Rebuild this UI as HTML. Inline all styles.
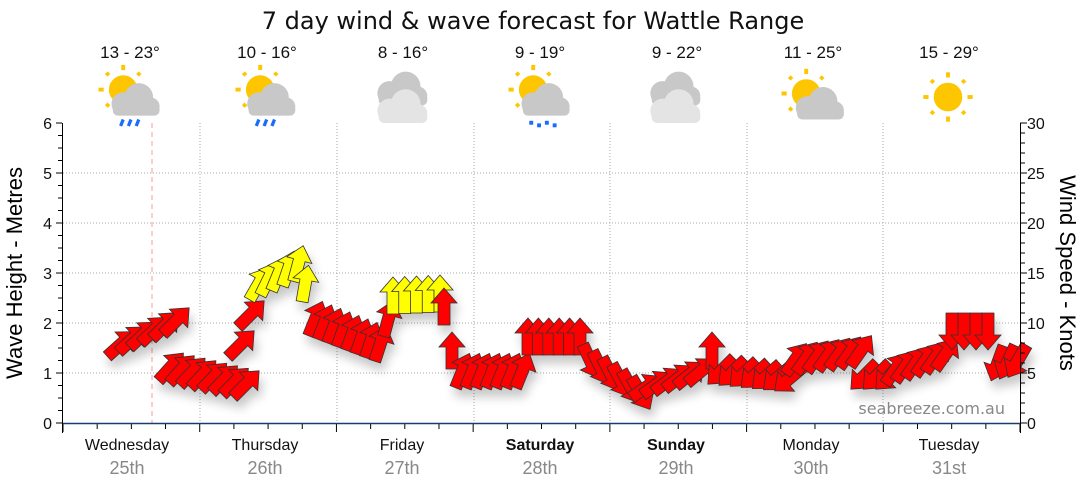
<!DOCTYPE html>
<html><head><meta charset="utf-8"><style>
html,body{margin:0;padding:0;background:#fff;width:1080px;height:490px;overflow:hidden}
svg text{font-family:"Liberation Sans",sans-serif}
.dj{font-family:"DejaVu Sans",sans-serif}
</style></head><body>
<svg id="s" width="1080" height="490" xmlns="http://www.w3.org/2000/svg">
<defs>
<polygon id="ar" points="0,-20 13,-5 6,-5 6,17 -6,17 -6,-5 -13,-5" stroke="#333" stroke-width="0.8"/>
<filter id="sh" x="-20%" y="-20%" width="140%" height="160%"><feGaussianBlur in="SourceAlpha" stdDeviation="5"/><feOffset dx="3" dy="8"/><feComponentTransfer><feFuncA type="linear" slope="0.22"/></feComponentTransfer><feMerge><feMergeNode/><feMergeNode in="SourceGraphic"/></feMerge></filter>
<g id="sun"><circle r="11" fill="#fdc600"/><g stroke="#fdc600" stroke-width="3"><line x1="0" y1="-15" x2="0" y2="-19"/><line x1="0" y1="15" x2="0" y2="19"/><line x1="-15" y1="0" x2="-19" y2="0"/><line x1="15" y1="0" x2="19" y2="0"/><line x1="-11" y1="-11" x2="-13" y2="-13"/><line x1="11" y1="-11" x2="13" y2="-13"/><line x1="-11" y1="11" x2="-13" y2="13"/><line x1="11" y1="11" x2="13" y2="13"/></g></g>
<g id="cl"><circle cx="-8" cy="0" r="9"/><circle cx="4" cy="-5" r="11"/><circle cx="13" cy="2" r="7"/><rect x="-16" y="0" width="36" height="9" rx="4"/></g>
</defs>
<text x="533" y="29" text-anchor="middle" fill="#111" class="dj" style="font-size:24px">7 day wind &amp; wave forecast for Wattle Range</text>
<g font-size="17" text-anchor="middle" fill="#111">
<text x="130" y="58">13 - 23°</text><text x="267" y="58">10 - 16°</text><text x="403" y="58">8 - 16°</text><text x="540" y="58">9 - 19°</text><text x="677" y="58">9 - 22°</text><text x="813" y="58">11 - 25°</text><text x="949" y="58">15 - 29°</text>
</g>
<g>
<g transform="translate(131,100) scale(1.3) translate(-131,-100)"><use href="#sun" x="125" y="92"/><use href="#cl" x="133" y="103" fill="#c8c8c8"/><g stroke="#1a6cff" stroke-width="2.5"><line x1="125" y1="115" x2="123" y2="120"/><line x1="131" y1="115" x2="129" y2="120"/><line x1="137" y1="115" x2="135" y2="120"/></g></g>
<g transform="translate(268,100) scale(1.3) translate(-268,-100)"><use href="#sun" x="262" y="92"/><use href="#cl" x="269" y="103" fill="#c8c8c8"/><g stroke="#1a6cff" stroke-width="2.5"><line x1="261" y1="115" x2="259" y2="120"/><line x1="267" y1="115" x2="265" y2="120"/><line x1="273" y1="115" x2="271" y2="120"/></g></g>
<g transform="translate(403,100) scale(1.35) translate(-403,-100)"><use href="#cl" x="401" y="95" fill="#c8c8c8"/><use href="#cl" x="401" y="108" fill="#e4e4e4"/></g>
<g transform="translate(541,100) scale(1.3) translate(-541,-100)"><use href="#sun" x="535" y="92"/><use href="#cl" x="543" y="103" fill="#c8c8c8"/><g fill="#1a6cff"><rect x="532" y="116" width="3" height="3"/><rect x="538" y="118" width="3" height="3"/><rect x="544" y="116" width="3" height="3"/><rect x="550" y="118" width="3" height="3"/></g></g>
<g transform="translate(676,100) scale(1.35) translate(-676,-100)"><use href="#cl" x="674" y="95" fill="#c8c8c8"/><use href="#cl" x="674" y="108" fill="#e4e4e4"/></g>
<g transform="translate(814,100) scale(1.3) translate(-814,-100)"><use href="#sun" x="808" y="95"/><use href="#cl" x="817" y="106" fill="#c8c8c8"/></g>
<g transform="translate(948,97) scale(1.3) translate(-948,-97)"><use href="#sun" x="948" y="97"/></g>
</g>
<g stroke="#aaa" stroke-width="1" stroke-dasharray="1,2">
<line x1="63" y1="173" x2="1020" y2="173"/><line x1="63" y1="223" x2="1020" y2="223"/><line x1="63" y1="273" x2="1020" y2="273"/><line x1="63" y1="323" x2="1020" y2="323"/><line x1="63" y1="373" x2="1020" y2="373"/>
<line x1="200" y1="123" x2="200" y2="423"/><line x1="337" y1="123" x2="337" y2="423"/><line x1="474" y1="123" x2="474" y2="423"/><line x1="610" y1="123" x2="610" y2="423"/><line x1="747" y1="123" x2="747" y2="423"/><line x1="883" y1="123" x2="883" y2="423"/>
</g>
<line x1="152" y1="123" x2="152" y2="423" stroke="#f99" stroke-dasharray="5,4"/>
<text x="1005" y="414" font-size="16" fill="#888" text-anchor="end" class="dj">seabreeze.com.au</text>
<g id="arrows" filter="url(#sh)"></g>
<g id="axes" stroke="#000" stroke-width="1"></g>
<line x1="63" y1="423.5" x2="1020" y2="423.5" stroke="#1b3d6d" stroke-width="1.5"/>
<g font-size="16" fill="#111" text-anchor="end">
<text x="52" y="129">6</text><text x="52" y="179">5</text><text x="52" y="229">4</text><text x="52" y="279">3</text><text x="52" y="329">2</text><text x="52" y="379">1</text><text x="52" y="429">0</text>
</g>
<g font-size="16" fill="#111">
<text x="1027" y="129">30</text><text x="1027" y="179">25</text><text x="1027" y="229">20</text><text x="1027" y="279">15</text><text x="1027" y="329">10</text><text x="1027" y="379">5</text><text x="1027" y="429">0</text>
</g>
<text transform="translate(22,273) rotate(-90)" font-size="22" text-anchor="middle" fill="#000">Wave Height - Metres</text>
<text transform="translate(1060,273) rotate(90)" font-size="22" text-anchor="middle" fill="#000">Wind Speed - Knots</text>
<g font-size="16" text-anchor="middle" fill="#111">
<text x="127" y="450">Wednesday</text><text x="265" y="450">Thursday</text><text x="402" y="450">Friday</text><text x="540" y="450" font-weight="bold">Saturday</text><text x="676" y="450" font-weight="bold">Sunday</text><text x="811" y="450">Monday</text><text x="949" y="450">Tuesday</text>
</g>
<g font-size="18" text-anchor="middle" fill="#888" class="dj">
<text x="127" y="474">25th</text><text x="265" y="474">26th</text><text x="402" y="474">27th</text><text x="540" y="474">28th</text><text x="676" y="474">29th</text><text x="811" y="474">30th</text><text x="949" y="474">31st</text>
</g>
</svg>
<script>
var NS="http://www.w3.org/2000/svg";
var ax=document.getElementById("axes");
function L(x1,y1,x2,y2){var l=document.createElementNS(NS,"line");l.setAttribute("x1",x1);l.setAttribute("y1",y1);l.setAttribute("x2",x2);l.setAttribute("y2",y2);ax.appendChild(l);}
L(62.5,123,62.5,433);L(1020.5,123,1020.5,433);
for(var i=0;i<=24;i++){var y=123+i*12.5;L(i%4==0?56:58,y,62,y);}
for(var i=0;i<=30;i++){var y=123+i*10;L(1020,y,i%5==0?1027:1025,y);}
for(var d=0;d<28;d++){var x=63+d*34.18;L(x,424,x,d%4==0?432:429);}
L(1020,424,1020,432);
var g=document.getElementById("arrows");
var segs=[
[120,175,345,322,48,45,"red",11],
[170,245,368,385,42,45,"red",11],
[240,240,345,345,45,45,"red",1],[250,250,315,315,45,45,"red",1],
[258,298,285,265,30,15,"yellow",10],[305,305,285,285,10,10,"yellow",1],
[315,380,320,345,22,18,"red",10],[388,388,320,320,15,15,"red",1],
[393,440,297,295,0,0,"yellow",11],
[444,444,308,308,0,0,"red",1],[452,452,352,352,0,0,"red",1],
[462,522,372,372,22,22,"red",10],
[528,580,338,338,0,0,"red",11],
[590,640,360,392,155,150,"red",10],
[645,700,388,372,55,50,"red",11],
[712,712,352,352,0,0,"red",1],
[722,790,370,378,225,230,"red",11],
[795,860,360,352,35,35,"red",11],
[865,890,375,375,225,225,"red",12],
[895,945,370,355,35,35,"red",10],
[952,988,330,330,180,180,"red",12],
[998,1018,362,360,200,210,"red",10]];
segs.forEach(function(s){var n=Math.max(1,Math.round((s[1]-s[0])/s[7]));for(var i=0;i<=n;i++){if(s[0]==s[1]&&i>0)break;var t=i/n;var x=s[0]+(s[1]-s[0])*t,y=s[2]+(s[3]-s[2])*t,a=s[4]+(s[5]-s[4])*t;var u=document.createElementNS(NS,"use");u.setAttribute("href","#ar");u.setAttribute("fill",s[6]=="red"?"#ff0000":"#ffff00");u.setAttribute("transform","translate("+x+","+y+") rotate("+a+")");g.appendChild(u);}});
</script>
</body></html>
